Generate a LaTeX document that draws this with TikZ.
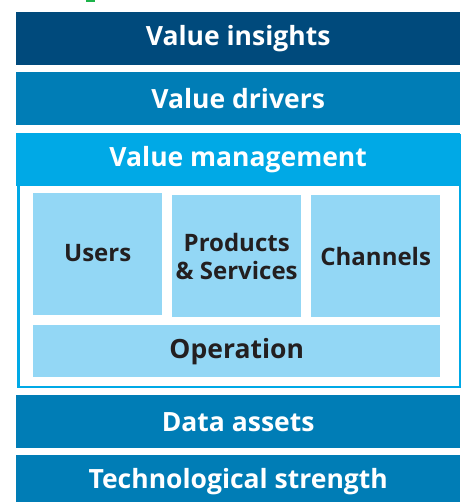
\documentclass[tikz,border=0pt]{standalone}
\usepackage{fontspec}
\setmainfont{Open Sans}
\definecolor{navyblue}{HTML}{004A7C}
\definecolor{midblue}{HTML}{007DB6}
\definecolor{skyblue}{HTML}{00A9E6}
\definecolor{paleblue}{HTML}{93D7F5}
\definecolor{inkdark}{HTML}{231F20}
\definecolor{leafgreen}{HTML}{1DB34A}
\begin{document}
\begin{tikzpicture}[x=1pt,y=-1pt,
  every node/.style={font=\bfseries\fontsize{26.5}{28}\selectfont,inner sep=0pt,anchor=north west},
  bar/.style={fill=midblue,text=white,minimum width=444pt,minimum height=53pt},
  tile/.style={fill=paleblue,text=inkdark,align=center,font=\bfseries\fontsize{24}{28}\selectfont}]
\clip (0,0) rectangle (465,502);
\fill[leafgreen] (86,0) rectangle (95,2);
\node[bar,fill=navyblue] (insights) at (16,12) {Value insights};
\node[bar] (drivers) at (16,72) {Value drivers};
% value management frame
\node[draw=skyblue,fill=white,line width=2.5pt,minimum width=441.5pt,minimum height=251.5pt] (mgmtframe) at (17.25,134.25) {};
\node[bar,fill=skyblue] (mgmt) at (16,133) {Value management};
\node[tile,minimum width=129pt,minimum height=122pt] (users) at (33,193) {\raisebox{3pt}{Users}};
\node[tile,minimum width=129pt,minimum height=122pt] (products) at (172,195) {Products\\\& Services};
\node[tile,minimum width=129pt,minimum height=122pt] (channels) at (311,195) {\raisebox{-2pt}{Channels}};
\node[tile,minimum width=407pt,minimum height=52pt,font=\bfseries\fontsize{26.5}{28}\selectfont] (operation) at (33,325) {Operation};
% foundations
\node[bar] (data) at (16,395) {Data assets};
\node[bar] (tech) at (16,455) {Technological strength};
\end{tikzpicture}
\end{document}
